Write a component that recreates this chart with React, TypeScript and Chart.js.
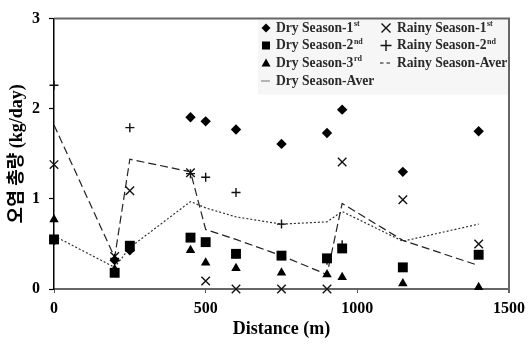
import React, { useEffect, useRef } from 'react';
import { Chart, registerables } from 'chart.js';

Chart.register(...registerables);

const distances = [0, 200, 250, 450, 500, 600, 750, 900, 950, 1150, 1400];
const dry1 = [0.54, 0.32, 0.43, 1.905, 1.86, 1.77, 1.61, 1.73, 1.99, 1.3, 1.75];
const dry2 = [0.55, 0.18, 0.48, 0.57, 0.52, 0.39, 0.37, 0.34, 0.45, 0.24, 0.38];
const dry3 = [0.77, 0.22, 0.44, 0.43, 0.29, 0.23, 0.18, 0.16, 0.13, 0.06, 0.02];
const rainy1 = [1.38, 0.36, 1.09, 1.29, 0.09, 0, 0, 0, 1.41, 0.99, 0.5];
const rainy2 = [2.26, 0.34, 1.79, 1.28, 1.24, 1.07, 0.72, 0.32, 0.49, null, null];
const dryAver = [0.59, 0.24, 0.46, 0.97, 0.9, 0.8, 0.72, 0.745, 0.86, 0.53, 0.72];
const rainyAver = [1.82, 0.35, 1.44, 1.3, 0.66, 0.55, 0.37, 0.16, 0.95, 0.54, 0.26];
const xTicks = [0, 500, 1000, 1500];
const yTicks = [0, 1, 2, 3];

const xTitle = 'Distance (m)';
const yTitle = '오염 총량 (kg/day)';

// legend labels: [base, superscript]
const legendCol1 = [
  ['Dry Season-1', 'st'],
  ['Dry Season-2', 'nd'],
  ['Dry Season-3', 'rd'],
  ['Dry Season-Aver', ''],
];
const legendCol2 = [
  ['Rainy Season-1', 'st'],
  ['Rainy Season-2', 'nd'],
  ['Rainy Season-Aver', ''],
];

const serif = '"Liberation Serif", "Times New Roman", "Noto Sans CJK KR", serif';

function drawLabel(ctx: CanvasRenderingContext2D, x: number, y: number, base: string, sup: string) {
  ctx.font = `bold 13.6px ${serif}`;
  ctx.fillStyle = '#2a2a2a';
  ctx.textAlign = 'left';
  ctx.textBaseline = 'middle';
  ctx.fillText(base, x, y);
  if (sup) {
    const w = ctx.measureText(base).width;
    ctx.font = `bold 8px ${serif}`;
    ctx.fillText(sup, x + w + 0.5, y - 4);
  }
}

const legendPlugin = {
  id: 'customLegend',
  beforeDatasetsDraw(chart: any) {
    const { ctx, chartArea } = chart;
    ctx.save();
    ctx.fillStyle = '#f6f6f6';
    ctx.fillRect(258, chartArea.top + 1, chartArea.right - 259, 75);
    ctx.strokeStyle = '#666';
    ctx.lineWidth = 2;
    ctx.beginPath();
    ctx.moveTo(chartArea.left, chartArea.top);
    ctx.lineTo(chartArea.right, chartArea.top);
    ctx.lineTo(chartArea.right, chartArea.bottom + 4);
    ctx.stroke();
    ctx.restore();
  },
  afterDraw(chart: any) {
    const { ctx } = chart;
    ctx.save();
    const rows = [28, 45.5, 63, 81];
    const mx1 = 266;
    const tx1 = 276;
    const mx2 = 386;
    const tx2 = 397;
    ctx.fillStyle = '#000';
    ctx.strokeStyle = '#000';
    let y = rows[0];
    ctx.beginPath();
    ctx.moveTo(mx1 - 4.5, y);
    ctx.lineTo(mx1, y - 4.5);
    ctx.lineTo(mx1 + 4.5, y);
    ctx.lineTo(mx1, y + 4.5);
    ctx.closePath();
    ctx.fill();
    y = rows[1];
    ctx.fillRect(mx1 - 4, y - 4, 8, 8);
    y = rows[2];
    ctx.beginPath();
    ctx.moveTo(mx1, y - 4.5);
    ctx.lineTo(mx1 + 4.5, y + 3.5);
    ctx.lineTo(mx1 - 4.5, y + 3.5);
    ctx.closePath();
    ctx.fill();
    y = rows[3];
    ctx.strokeStyle = '#888';
    ctx.lineWidth = 1.2;
    ctx.beginPath();
    ctx.moveTo(mx1 - 5, y);
    ctx.lineTo(mx1 + 4, y);
    ctx.stroke();
    ctx.strokeStyle = '#111';
    ctx.lineWidth = 1.4;
    y = rows[0];
    ctx.beginPath();
    ctx.moveTo(mx2 - 4.5, y - 4.5);
    ctx.lineTo(mx2 + 4.5, y + 4.5);
    ctx.moveTo(mx2 + 4.5, y - 4.5);
    ctx.lineTo(mx2 - 4.5, y + 4.5);
    ctx.stroke();
    y = rows[1];
    ctx.beginPath();
    ctx.moveTo(mx2 - 5.5, y);
    ctx.lineTo(mx2 + 5.5, y);
    ctx.moveTo(mx2, y - 5.5);
    ctx.lineTo(mx2, y + 5.5);
    ctx.stroke();
    y = rows[2];
    ctx.lineWidth = 1.2;
    ctx.beginPath();
    ctx.moveTo(mx2 - 6, y);
    ctx.lineTo(mx2 - 2.5, y);
    ctx.moveTo(mx2 + 0.5, y);
    ctx.lineTo(mx2 + 4, y);
    ctx.stroke();

    legendCol1.forEach(([b, s], i) => drawLabel(ctx, tx1, rows[i], b, s));
    legendCol2.forEach(([b, s], i) => drawLabel(ctx, tx2, rows[i], b, s));
    ctx.restore();
  },
};

export default function App() {
  const ref = useRef<HTMLCanvasElement>(null);
  useEffect(() => {
    if (!ref.current) return;
    const pts = (arr: (number | null)[]) => distances.map((x, i) => ({ x, y: arr[i] }));
    const chart = new Chart(ref.current, {
      type: 'scatter',
      data: {
        datasets: [
          {
            label: 'Dry Season-1st',
            data: pts(dry1),
            pointStyle: 'rectRot',
            pointRadius: 5.2,
            backgroundColor: '#000',
            borderColor: '#000',
            borderWidth: 0,
            clip: false,
          },
          {
            label: 'Dry Season-2nd',
            data: pts(dry2),
            pointStyle: 'rect',
            pointRadius: 7,
            backgroundColor: '#000',
            borderColor: '#000',
            borderWidth: 0,
            clip: false,
          },
          {
            label: 'Dry Season-3rd',
            data: pts(dry3),
            pointStyle: 'triangle',
            pointRadius: 5.5,
            backgroundColor: '#000',
            borderColor: '#000',
            borderWidth: 0,
            clip: false,
          },
          {
            label: 'Rainy Season-1st',
            data: pts(rainy1),
            pointStyle: 'crossRot',
            pointRadius: 6,
            backgroundColor: '#111',
            borderColor: '#111',
            borderWidth: 1.4,
            clip: false,
          },
          {
            label: 'Rainy Season-2nd',
            data: pts(rainy2),
            pointStyle: 'cross',
            pointRadius: 4.5,
            backgroundColor: '#111',
            borderColor: '#111',
            borderWidth: 1.4,
            clip: false,
          },
          {
            label: 'Rainy Season-Aver',
            data: pts(rainyAver),
            showLine: true,
            pointRadius: 0,
            borderColor: '#222',
            borderWidth: 1.2,
            borderDash: [8, 4],
            backgroundColor: 'transparent',
            clip: false,
          },
          {
            label: 'Dry Season-Aver',
            data: pts(dryAver),
            showLine: true,
            pointRadius: 0,
            borderColor: '#333',
            borderWidth: 1.2,
            borderDash: [2, 2],
            backgroundColor: 'transparent',
            clip: false,
          },
        ],
      },
      options: {
        animation: false,
        responsive: false,
        layout: { padding: { left: 0, right: 18, top: 14, bottom: 0 } },
        plugins: {
          legend: { display: false },
          tooltip: { enabled: false },
        },
        scales: {
          x: {
            type: 'linear',
            min: 0,
            max: 1500,
            afterBuildTicks: (s: any) => {
              s.ticks = xTicks.map((v) => ({ value: v }));
            },
            afterFit: (s: any) => {
              s.height = 55;
            },
            ticks: {
              callback: (v: any) => String(v),
              font: { family: serif, size: 16, weight: 'bold' },
              color: '#000',
              padding: 6,
              maxRotation: 0,
            },
            grid: {
              drawOnChartArea: false,
              drawTicks: true,
              tickLength: 4,
              tickColor: '#555',
              tickWidth: 1,
            },
            border: { color: '#666', width: 2 },
            title: {
              display: true,
              text: xTitle,
              font: { family: serif, size: 18, weight: 'bold' },
              color: '#000',
              padding: { top: 0, bottom: 4 },
            },
          },
          y: {
            type: 'linear',
            min: 0,
            max: 3,
            afterBuildTicks: (s: any) => {
              s.ticks = yTicks.map((v) => ({ value: v }));
            },
            afterFit: (s: any) => {
              s.width = 54;
            },
            ticks: {
              callback: (v: any) => String(v),
              font: { family: serif, size: 16, weight: 'bold' },
              color: '#000',
              padding: 9,
            },
            grid: {
              drawOnChartArea: false,
              drawTicks: true,
              tickLength: 5,
              tickColor: '#000',
              tickWidth: 1.2,
            },
            border: { color: '#000', width: 1.5 },
            title: {
              display: true,
              text: yTitle,
              font: { family: serif, size: 18, weight: 'bold' },
              color: '#000',
              padding: { top: 7, bottom: 0 },
            },
          },
        },
      },
      plugins: [legendPlugin],
    } as any);
    return () => chart.destroy();
  }, []);
  return (
    <div style={{ position: 'absolute', left: 0, top: 0, width: 531, height: 344, background: '#fff' }}>
      <canvas ref={ref} width={531} height={344} />
    </div>
  );
}
